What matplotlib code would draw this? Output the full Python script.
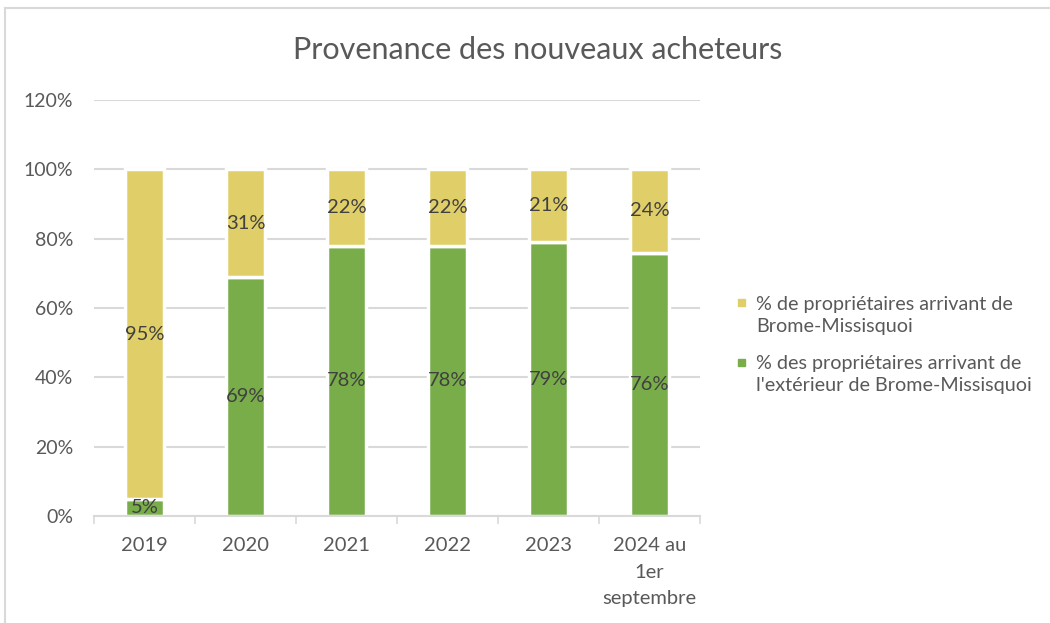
import matplotlib.pyplot as plt
from matplotlib.lines import Line2D
from matplotlib.patches import Rectangle
import numpy as np

years = ['2019', '2020', '2021', '2022', '2023', '2024 au\n1er\nseptembre']
outside = [5, 69, 78, 78, 79, 76]
local = [95, 31, 22, 22, 21, 24]
local_label = '% de propriétaires arrivant de\nBrome-Missisquoi'
outside_label = "% des propriétaires arrivant de\nl'extérieur de Brome-Missisquoi"

yellow = '#E0CF69'
green = '#79AD4A'
grid_col = '#D9D9D9'
txt_col = '#595959'

plt.rcParams['font.family'] = ['Lato', 'DejaVu Sans']

W, H = 1050, 623
fig = plt.figure(figsize=(10.5, 6.23), dpi=100)
ax = fig.add_axes([94 / W, 1 - 516 / H, 606 / W, 416 / H])

x = np.arange(len(years))
b1 = ax.bar(x, outside, width=0.39, color=green, edgecolor='white', linewidth=2.5,
            label=outside_label, zorder=3)
b2 = ax.bar(x, local, width=0.39, bottom=outside, color=yellow, edgecolor='white',
            linewidth=2.5, label=local_label, zorder=3)

for i in range(len(years)):
    ax.text(x[i], outside[i] / 2, f'{outside[i]}%', ha='center', va='center',
            fontsize=14.5, color='#404040', zorder=4)
    ax.text(x[i], outside[i] + local[i] / 2, f'{local[i]}%', ha='center', va='center',
            fontsize=14.5, color='#404040', zorder=4)

ax.set_xlim(-0.5, len(years) - 0.5)
ax.set_ylim(0, 120)
ax.set_yticks(range(0, 121, 20))
ax.set_yticklabels([f'{v}%' for v in range(0, 121, 20)])
ax.set_xticks(x)
ax.set_xticklabels(years, linespacing=1.7)
ax.set_xticks(np.arange(-0.5, len(years), 1), minor=True)
ax.tick_params(axis='x', which='major', length=0, pad=15, labelsize=14.5, labelcolor=txt_col)
ax.tick_params(axis='x', which='minor', length=6, color=grid_col, width=1.2)
ax.tick_params(axis='y', length=0, pad=15, labelsize=14, labelcolor=txt_col)
ax.grid(axis='y', color=grid_col, linewidth=1.5, zorder=0)
for s in ['top', 'right', 'left']:
    ax.spines[s].set_visible(False)
ax.spines['bottom'].set_color(grid_col)
ax.spines['bottom'].set_linewidth(1.5)
ax.spines['bottom'].set_zorder(4)

fig.text(538 / W, 1 - 50 / H, 'Provenance des nouveaux acheteurs', ha='center', va='center',
         fontsize=22, color=txt_col)

# legend drawn by hand: Excel puts the marker beside the first line
entries = [(local_label, yellow, 303), (outside_label, green, 362)]
for label, col, ymark in entries:
    fig.add_artist(Rectangle((738 / W, 1 - (ymark + 3.5) / H), 7 / W, 7 / H,
                             transform=fig.transFigure, color=col))
    fig.text(756 / W, 1 - (ymark + 12.5) / H, label, ha='left', va='center',
             fontsize=14.2, color=txt_col, linespacing=1.3)

fig.add_artist(Line2D([5 / W, 1.0], [1 - 8 / H, 1 - 8 / H], color=grid_col, linewidth=1.5))
fig.add_artist(Line2D([5 / W, 5 / W], [0, 1 - 8 / H], color=grid_col, linewidth=1.5))

plt.savefig('out.png', dpi=100)
